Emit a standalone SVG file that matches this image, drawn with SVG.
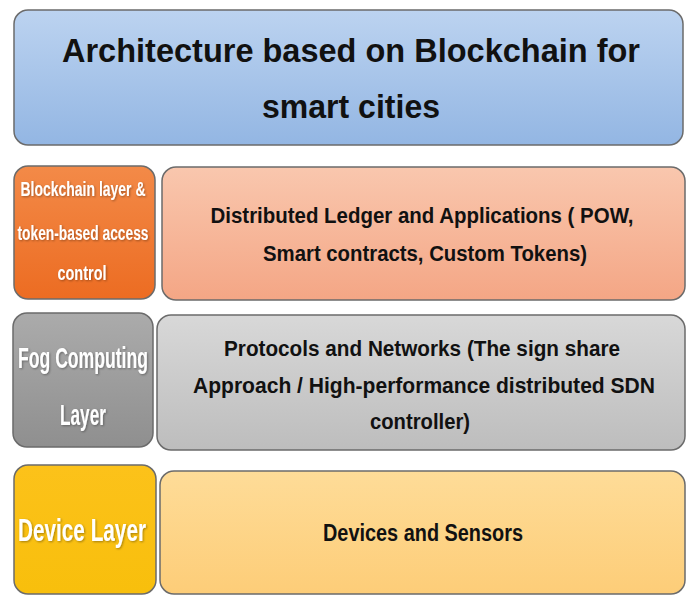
<svg xmlns="http://www.w3.org/2000/svg" width="692" height="595" viewBox="0 0 692 595">
  <defs>
    <linearGradient id="gTitle" x1="0" y1="0" x2="0" y2="1">
      <stop offset="0" stop-color="#bcd3f0"/>
      <stop offset="1" stop-color="#93b6e3"/>
    </linearGradient>
    <linearGradient id="gOrange" x1="0" y1="0" x2="0" y2="1">
      <stop offset="0" stop-color="#f38a48"/>
      <stop offset="1" stop-color="#ec6c22"/>
    </linearGradient>
    <linearGradient id="gSalmon" x1="0" y1="0" x2="0" y2="1">
      <stop offset="0" stop-color="#f9c7ae"/>
      <stop offset="1" stop-color="#f4a685"/>
    </linearGradient>
    <linearGradient id="gGrayDark" x1="0" y1="0" x2="0" y2="1">
      <stop offset="0" stop-color="#ababab"/>
      <stop offset="1" stop-color="#8f8f8f"/>
    </linearGradient>
    <linearGradient id="gGrayLight" x1="0" y1="0" x2="0" y2="1">
      <stop offset="0" stop-color="#d8d8d8"/>
      <stop offset="1" stop-color="#bdbdbd"/>
    </linearGradient>
    <linearGradient id="gYellow" x1="0" y1="0" x2="0" y2="1">
      <stop offset="0" stop-color="#fcc21a"/>
      <stop offset="1" stop-color="#f8bf0c"/>
    </linearGradient>
    <linearGradient id="gYellowLight" x1="0" y1="0" x2="0" y2="1">
      <stop offset="0" stop-color="#fedc98"/>
      <stop offset="1" stop-color="#fdcd78"/>
    </linearGradient>
    <filter id="soft" x="-10%" y="-10%" width="120%" height="120%">
      <feDropShadow dx="1" dy="1" stdDeviation="0.8" flood-color="#000" flood-opacity="0.35"/>
    </filter>
  </defs>
  <style>
    .box { stroke: #6b6b6b; stroke-width: 1.5; }
    .dark { font-family: "Liberation Sans", Arial, sans-serif; font-weight: bold; fill: #111; text-anchor: middle; }
    .light { font-family: "Liberation Sans", Arial, sans-serif; font-weight: bold; fill: #fff; text-anchor: middle; filter: url(#soft); }
  </style>

  <rect width="692" height="595" fill="#ffffff"/>

  <!-- Title banner -->
  <g id="title">
    <rect class="box" x="14" y="10" width="669" height="135" rx="14" fill="url(#gTitle)" stroke="#5b7293"/>
    <text class="dark" x="351" y="62" font-size="34" textLength="578" lengthAdjust="spacingAndGlyphs">Architecture based on Blockchain for</text>
    <text class="dark" x="351" y="118" font-size="34" textLength="178" lengthAdjust="spacingAndGlyphs">smart cities</text>
  </g>

  <!-- Blockchain layer -->
  <g id="blockchain-layer">
    <rect class="box" x="14" y="166" width="141" height="133" rx="14" fill="url(#gOrange)" stroke="#a0501e"/>
    <text class="light" x="83" y="196" font-size="20" textLength="125" lengthAdjust="spacingAndGlyphs">Blockchain layer &amp;</text>
    <text class="light" x="83" y="240" font-size="20" textLength="131" lengthAdjust="spacingAndGlyphs">token-based access</text>
    <text class="light" x="82" y="280" font-size="20" textLength="49" lengthAdjust="spacingAndGlyphs">control</text>
  </g>
  <g id="ledger">
    <rect class="box" x="162" y="167" width="523" height="133" rx="14" fill="url(#gSalmon)" stroke="#8e8e8e"/>
    <text class="dark" x="422" y="223" font-size="22" textLength="423" lengthAdjust="spacingAndGlyphs">Distributed Ledger and Applications ( POW,</text>
    <text class="dark" x="425" y="261" font-size="22" textLength="324" lengthAdjust="spacingAndGlyphs">Smart contracts, Custom Tokens)</text>
  </g>

  <!-- Fog computing layer -->
  <g id="fog-layer">
    <rect class="box" x="13" y="313" width="140" height="134" rx="14" fill="url(#gGrayDark)" stroke="#5e5e5e"/>
    <text class="light" x="83" y="368" font-size="30" textLength="130" lengthAdjust="spacingAndGlyphs">Fog Computing</text>
    <text class="light" x="83" y="425" font-size="30" textLength="46" lengthAdjust="spacingAndGlyphs">Layer</text>
  </g>
  <g id="protocols">
    <rect class="box" x="157" y="315" width="528" height="135" rx="14" fill="url(#gGrayLight)" stroke="#8a8a8a"/>
    <text class="dark" x="422" y="356" font-size="22" textLength="396" lengthAdjust="spacingAndGlyphs">Protocols and Networks (The sign share</text>
    <text class="dark" x="424" y="393" font-size="22" textLength="462" lengthAdjust="spacingAndGlyphs">Approach / High-performance distributed SDN</text>
    <text class="dark" x="420" y="429" font-size="22" textLength="100" lengthAdjust="spacingAndGlyphs">controller)</text>
  </g>

  <!-- Device layer -->
  <g id="device-layer">
    <rect class="box" x="14" y="465" width="142" height="129" rx="14" fill="url(#gYellow)" stroke="#6e5a20"/>
    <text class="light" x="82" y="541" font-size="32" textLength="128" lengthAdjust="spacingAndGlyphs">Device Layer</text>
  </g>
  <g id="devices">
    <rect class="box" x="160" y="471" width="525" height="123" rx="14" fill="url(#gYellowLight)" stroke="#8a8a8a"/>
    <text class="dark" x="423" y="541" font-size="23" textLength="200" lengthAdjust="spacingAndGlyphs">Devices and Sensors</text>
  </g>

  <!-- Layers are stacked without connectors -->
  <g id="connectors"/>
</svg>
